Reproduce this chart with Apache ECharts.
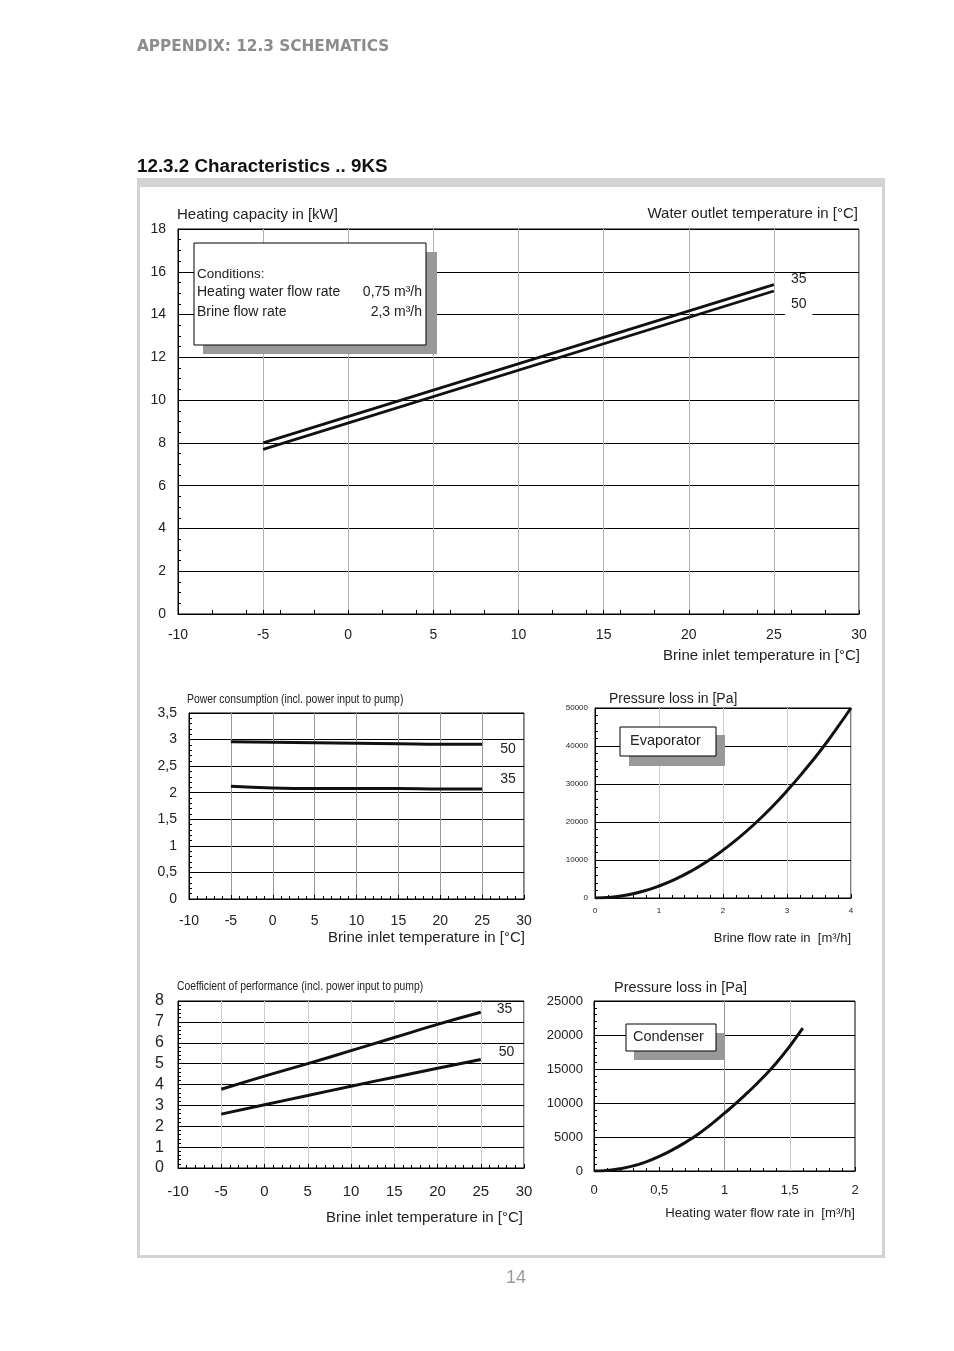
<!DOCTYPE html>
<html>
<head>
<meta charset="utf-8">
<script src="https://cdn.jsdelivr.net/npm/echarts@6/dist/echarts.min.js"></script>
<style>
html,body{margin:0;padding:0;background:#fff;}
#c{width:954px;height:1351px;}
</style>
</head>
<body>
<div id="c"></div>
<script>
// ---------- data ----------
const mainX = [-5, 25];
const heat35 = [8.0, 15.4];
const heat50 = [7.7, 15.1];

const powerX = [-5, 0, 5, 10, 15, 20, 25];
const power50 = [2.96, 2.95, 2.94, 2.93, 2.92, 2.91, 2.91];
const power35 = [2.12, 2.09, 2.08, 2.08, 2.08, 2.07, 2.07];

const copX = [-5, 0, 5, 10, 15, 20, 25];
const cop35 = [3.77, 4.4, 5.0, 5.62, 6.25, 6.88, 7.46];
const cop50 = [2.58, 3.03, 3.47, 3.92, 4.35, 4.78, 5.2];

const evapFlow = [0, 0.25, 0.5, 0.75, 1, 1.25, 1.5, 1.75, 2, 2.25, 2.5, 2.75, 3, 3.25, 3.5, 3.75, 4];
const evapLoss = [0, 200, 780, 1760, 3150, 4900, 7050, 9600, 12600, 15900, 19600, 23700, 28200, 33100, 38300, 44000, 50000];

const condFlow = [0, 0.1, 0.2, 0.3, 0.4, 0.5, 0.6, 0.7, 0.8, 0.9, 1.0, 1.1, 1.2, 1.3, 1.4, 1.5, 1.6];
const condLoss = [0, 80, 330, 750, 1350, 2150, 3100, 4200, 5450, 6900, 8500, 10150, 11950, 13850, 15950, 18350, 21000];

const tempTicks = [-10, 30, 5];

// ---------- helpers ----------
const FONT = '"Liberation Sans", Arial, sans-serif';
const comma = v => String(v).replace('.', ',');
const zip = (xs, ys) => xs.map((x, i) => [x, ys[i]]);

function xAx(grid, min, max, interval, opts) {
  return {
    type: 'value', gridIndex: grid, min: min, max: max, interval: interval,
    axisLine: { show: true, onZero: false, lineStyle: { color: '#000', width: 1 } },
    axisTick: { show: true, inside: true, length: 4, lineStyle: { color: '#000' } },
    minorTick: { show: opts.minor > 0, splitNumber: opts.minor || 5, length: 3, lineStyle: { color: '#000' } },
    axisLabel: { fontFamily: FONT, fontSize: opts.fs, color: '#222', margin: opts.margin, formatter: comma },
    splitLine: { show: opts.split !== false, lineStyle: { color: opts.splitColor || '#aaa', width: 1 } }
  };
}
function yAx(grid, min, max, interval, opts) {
  return {
    type: 'value', gridIndex: grid, min: min, max: max, interval: interval,
    axisLine: { show: true, onZero: false, lineStyle: { color: '#000', width: 1 } },
    axisTick: { show: true, inside: true, length: 4, lineStyle: { color: '#000' } },
    minorTick: { show: true, splitNumber: opts.minor, length: 3, lineStyle: { color: '#000' } },
    axisLabel: { fontFamily: FONT, fontSize: opts.fs, color: '#222', margin: opts.margin, formatter: comma },
    splitLine: { show: true, lineStyle: { color: '#000', width: 1 } }
  };
}
function lineSeries(xi, yi, data, width, label, smooth) {
  const s = {
    type: 'line', xAxisIndex: xi, yAxisIndex: yi, data: data, symbol: 'none', smooth: smooth || false,
    lineStyle: { color: '#111', width: width }, z: 5, silent: true, animation: false
  };
  if (label) {
    s.endLabel = {
      show: true, formatter: label.text, distance: 8, offset: label.offset,
      fontFamily: FONT, fontSize: 14, color: '#222',
      backgroundColor: label.bg ? '#fff' : 'transparent', padding: label.bg ? [4, 6, 9, 6] : 0
    };
  }
  return s;
}
function txt(text, x, y, size, opts) {
  opts = opts || {};
  return {
    type: 'text', z: 20, silent: true, x: x, y: y, scaleX: opts.scaleX || 1,
    style: {
      text: text, x: 0, y: 0, fill: opts.fill || '#222',
      font: (opts.weight || 'normal') + ' ' + size + 'px ' + (opts.family || FONT),
      align: opts.align || 'left', verticalAlign: 'middle'
    }
  };
}
function rect(x, y, w, h, fill, stroke, z) {
  return {
    type: 'rect', z: z || 15, silent: true,
    shape: { x: x, y: y, width: w, height: h },
    style: { fill: fill, stroke: stroke || null, lineWidth: stroke ? 1 : 0 }
  };
}

const gridBase = { show: true, borderColor: '#000', borderWidth: 1, backgroundColor: 'transparent', containLabel: false };

const option = {
  animation: false,
  grid: [
    Object.assign({ left: 178, top: 229, width: 681, height: 385 }, gridBase),   // 0 main
    Object.assign({ left: 189, top: 713, width: 335, height: 186 }, gridBase),   // 1 power
    Object.assign({ left: 595, top: 708, width: 256, height: 190 }, gridBase),   // 2 evaporator
    Object.assign({ left: 178, top: 1001, width: 346, height: 167 }, gridBase),  // 3 COP
    Object.assign({ left: 594, top: 1001, width: 261, height: 170 }, gridBase)   // 4 condenser
  ],
  xAxis: [
    xAx(0, tempTicks[0], tempTicks[1], tempTicks[2], { fs: 14, margin: 14, minor: 0, splitColor: '#b0b0b0' }),
    xAx(1, tempTicks[0], tempTicks[1], tempTicks[2], { fs: 14, margin: 15, minor: 5, splitColor: '#999' }),
    xAx(2, 0, 4, 1, { fs: 8, margin: 9, minor: 5, splitColor: '#ccc' }),
    xAx(3, tempTicks[0], tempTicks[1], tempTicks[2], { fs: 15, margin: 16, minor: 5, splitColor: '#ccc' }),
    xAx(4, 0, 2, 0.5, { fs: 13, margin: 13, minor: 5, split: false }),
    // secondary tick axis for main chart (2-unit ticks)
    {
      type: 'value', gridIndex: 0, min: -10, max: 30, interval: 2, position: 'bottom',
      axisLine: { show: false, onZero: false }, axisLabel: { show: false }, splitLine: { show: false },
      axisTick: { show: true, inside: true, length: 4, lineStyle: { color: '#000' } }
    }
  ],
  yAxis: [
    yAx(0, 0, 18, 2, { fs: 14, margin: 12, minor: 4 }),
    yAx(1, 0, 3.5, 0.5, { fs: 14, margin: 12, minor: 5 }),
    yAx(2, 0, 50000, 10000, { fs: 8, margin: 7, minor: 5 }),
    yAx(3, 0, 8, 1, { fs: 16, margin: 14, minor: 5 }),
    yAx(4, 0, 25000, 5000, { fs: 13, margin: 11, minor: 5 })
  ],
  series: [
    lineSeries(0, 0, zip(mainX, heat35), 2.8, { text: '35', offset: [9, -5] }),
    lineSeries(0, 0, zip(mainX, heat50), 2.8, { text: '50', offset: [3, 13], bg: true }),
    lineSeries(1, 1, zip(powerX, power50), 3, { text: '50', offset: [10, 5] }, true),
    lineSeries(1, 1, zip(powerX, power35), 3, { text: '35', offset: [10, -10] }, true),
    lineSeries(2, 2, zip(evapFlow, evapLoss), 3, null, true),
    lineSeries(3, 3, zip(copX, cop35), 3, { text: '35', offset: [8, -3] }, true),
    lineSeries(3, 3, zip(copX, cop50), 3, { text: '50', offset: [10, -7] }, true),
    Object.assign(lineSeries(4, 4, zip(condFlow, condLoss), 3, null, true), {
      markLine: {
        silent: true, symbol: 'none', label: { show: false }, z: 1,
        data: [
          { xAxis: 1, lineStyle: { color: '#999', width: 1, type: 'solid' } },
          { xAxis: 1.5, lineStyle: { color: '#ccc', width: 1, type: 'solid' } }
        ]
      }
    })
  ],
  graphic: [
    // page header
    txt('APPENDIX: 12.3 SCHEMATICS', 137, 47, 15.3, { weight: 'bold', fill: '#8c8c8c', family: '"DejaVu Sans", sans-serif' }),
    txt('12.3.2 Characteristics .. 9KS', 137, 167, 18.8, { weight: 'bold', fill: '#111' }),
    // frame
    rect(137, 178, 748, 9, '#d3d3d3', null, 1),
    rect(137, 178, 3, 1080, '#d3d3d3', null, 1),
    rect(882, 178, 3, 1080, '#d3d3d3', null, 1),
    rect(137, 1255, 748, 3, '#d3d3d3', null, 1),
    txt('14', 516, 1278, 18, { fill: '#9a9a9a', align: 'center' }),

    // main chart texts
    txt('Heating capacity in [kW]', 177, 215, 15),
    txt('Water outlet temperature in [°C]', 858, 214, 15, { align: 'right' }),
    txt('Brine inlet temperature in [°C]', 860, 656, 15, { align: 'right' }),
    rect(203, 252, 234, 102, '#999'),
    rect(194, 243, 232, 102, '#fff', '#000', 16),
    txt('Conditions:', 197, 274, 13.5),
    txt('Heating water flow rate', 197, 292, 14),
    txt('0,75 m³/h', 422, 292, 14, { align: 'right' }),
    txt('Brine flow rate', 197, 312, 14),
    txt('2,3 m³/h', 422, 312, 14, { align: 'right' }),

    // power chart texts
    txt('Power consumption (incl. power input to pump)', 187, 700, 12, { scaleX: 0.865 }),
    txt('Brine inlet temperature in [°C]', 525, 938, 15, { align: 'right' }),

    // evaporator texts
    txt('Pressure loss in [Pa]', 609, 699, 14),
    txt('Brine flow rate in  [m³/h]', 851, 938, 13, { align: 'right' }),
    rect(629, 735, 96, 31, '#999'),
    rect(620, 727, 96, 29, '#fff', '#000', 16),
    txt('Evaporator', 630, 741, 14.5),

    // COP texts
    txt('Coefficient of performance (incl. power input to pump)', 177, 987, 12, { scaleX: 0.863 }),
    txt('Brine inlet temperature in [°C]', 523, 1218, 15, { align: 'right' }),

    // condenser texts
    txt('Pressure loss in [Pa]', 614, 988, 14.5),
    txt('Heating water flow rate in  [m³/h]', 855, 1213, 13.2, { align: 'right' }),
    rect(634, 1033, 91, 27, '#999'),
    rect(626, 1024, 90, 27, '#fff', '#000', 16),
    txt('Condenser', 633, 1037, 14.5)
  ]
};

const chart = echarts.init(document.getElementById('c'), null, { renderer: 'canvas' });
chart.setOption(option);
</script>
</body>
</html>
